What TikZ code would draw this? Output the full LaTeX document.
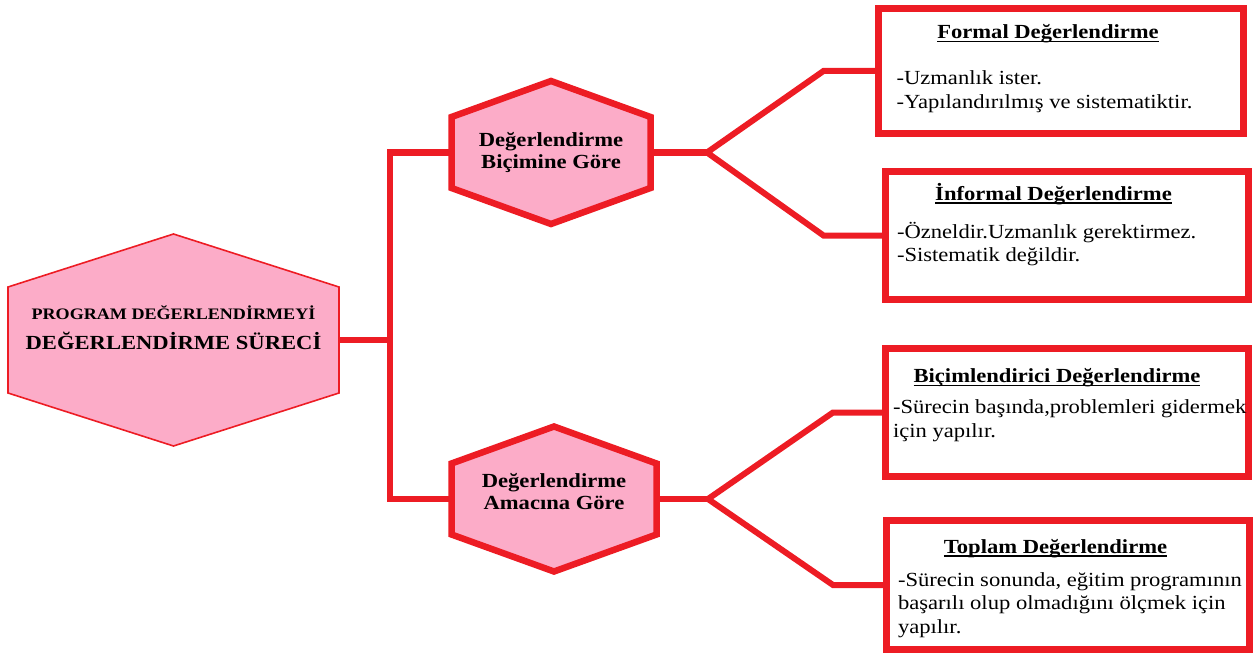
\documentclass[tikz,border=0pt]{standalone}
\usepackage{fontspec}
\setmainfont{Liberation Serif}[FakeStretch=1.13]
\usetikzlibrary{positioning,calc,backgrounds}

\definecolor{hexred}{RGB}{237,28,36}
\definecolor{hexpink}{RGB}{252,172,200}
% hexagon around a node: style, node, height of the peaks
\newcommand\hexpath[3]{\filldraw[#1] (#2.north west) -- ([yshift=#3]#2.north) -- (#2.north east)
  -- (#2.south east) -- ([yshift=-#3]#2.south) -- (#2.south west) -- cycle;}
\newcommand\ultitle[1]{\textbf{\setbox0\hbox{#1}\rlap{\rule[-3.5pt]{\wd0}{1.5pt}}\box0}}

\begin{document}
\begin{tikzpicture}[x=1pt, y=-1pt, font=\fontsize{20}{23.5}\selectfont,
    hexnode/.style={inner sep=0pt, outer sep=0pt, align=center, font=\bfseries\fontsize{20}{22.5}\selectfont},
    evalbox/.style={draw=hexred, line width=7pt, inner sep=0pt, outer sep=0pt},
    link/.style={draw=hexred, line width=6pt}]
    \useasboundingbox (0,0) rectangle (1258,658);

    \node[hexnode, minimum width=331pt, minimum height=106pt] (Surec) at (173.5,340)
        {\raisebox{0pt}[\height][\dimexpr\depth+20pt\relax]{\begin{tabular}{@{}c@{}}
        \fontsize{16}{16}\selectfont PROGRAM DEĞERLENDİRMEYİ\\[5.5pt]
        DEĞERLENDİRME SÜRECİ\end{tabular}}};
    \node[hexnode, minimum width=199pt, minimum height=71pt] (Bicim) at (551,152.5)
        {Değerlendirme\\Biçimine Göre};
    \node[hexnode, minimum width=205pt, minimum height=71pt] (Amac) at (554,499)
        {\raisebox{0pt}[\height][\dimexpr\depth+10pt\relax]{\begin{tabular}{@{}c@{}}
        Değerlendirme\\ Amacına Göre\end{tabular}}};

    \node[evalbox] (Formal) at (1061,71) {\begin{minipage}[c][125pt][t]{365pt}
        \vspace*{14pt}
        {\centering\hspace*{-26pt}\ultitle{Formal Değerlendirme}\strut\par}
        \vspace{22.5pt}
        \leftskip=18pt
        -Uzmanlık ister.\strut\\
        -Yapılandırılmış ve sistematiktir.\strut
        \end{minipage}};
    \node[evalbox] (Informal) at (1067,235.5) {\begin{minipage}[c][128pt][t]{363pt}
        \vspace*{11.4pt}
        {\centering\hspace*{-27pt}\ultitle{İnformal Değerlendirme}\strut\par}
        \vspace{14.5pt}
        \leftskip=11.5pt
        -Özneldir.Uzmanlık gerektirmez.\strut\\
        -Sistematik değildir.\strut
        \end{minipage}};
    \node[evalbox] (Bicimlendirici) at (1067,412.5) {\begin{minipage}[c][128pt][t]{363pt}
        \vspace*{17.7pt}
        {\centering\hspace*{-20pt}\ultitle{Biçimlendirici Değerlendirme}\strut\par}
        \vspace{7.8pt}
        \leftskip=7.5pt
        -Sürecin başında,problemleri gidermek\strut\\
        için yapılır.\strut
        \end{minipage}};
    \node[evalbox] (Toplam) at (1068,585) {\begin{minipage}[c][129pt][t]{363pt}
        \vspace*{16.4pt}
        {\centering\hspace*{-25pt}\ultitle{Toplam Değerlendirme}\strut\par}
        \vspace{9.2pt}
        \leftskip=11.5pt
        -Sürecin sonunda, eğitim programının\strut\\
        başarılı olup olmadığını ölçmek için\strut\\
        yapılır.\strut
        \end{minipage}};

    \coordinate (trunk) at (390,340);
    \coordinate (forkA) at (707,152.5);
    \coordinate (forkB) at (708,499);

    \begin{scope}[on background layer]
        % connectors first, hexagons on top of their ends
        \draw[link] (Surec.east) -- (trunk);
        \draw[link] (Bicim.west) -| (trunk) |- (Amac.west);
        \draw[link] (Bicim.east) -- (forkA);
        \draw[link] (Amac.east) -- (forkB);
        \draw[link] (Formal.west) -- ([xshift=-55pt]Formal.west) -- (forkA)
            -- ([xshift=-62pt]Informal.west) -- (Informal.west);
        \draw[link] (Bicimlendirici.west) -- ([xshift=-52.5pt]Bicimlendirici.west) -- (forkB)
            -- ([xshift=-53.5pt]Toplam.west) -- (Toplam.west);

        \hexpath{draw=hexred, fill=hexpink, line width=1.6pt}{Surec}{53pt}
        \hexpath{draw=hexred, fill=hexpink, line width=6.5pt}{Bicim}{36pt}
        \hexpath{draw=hexred, fill=hexpink, line width=6.5pt}{Amac}{37pt}
    \end{scope}
\end{tikzpicture}
\end{document}
